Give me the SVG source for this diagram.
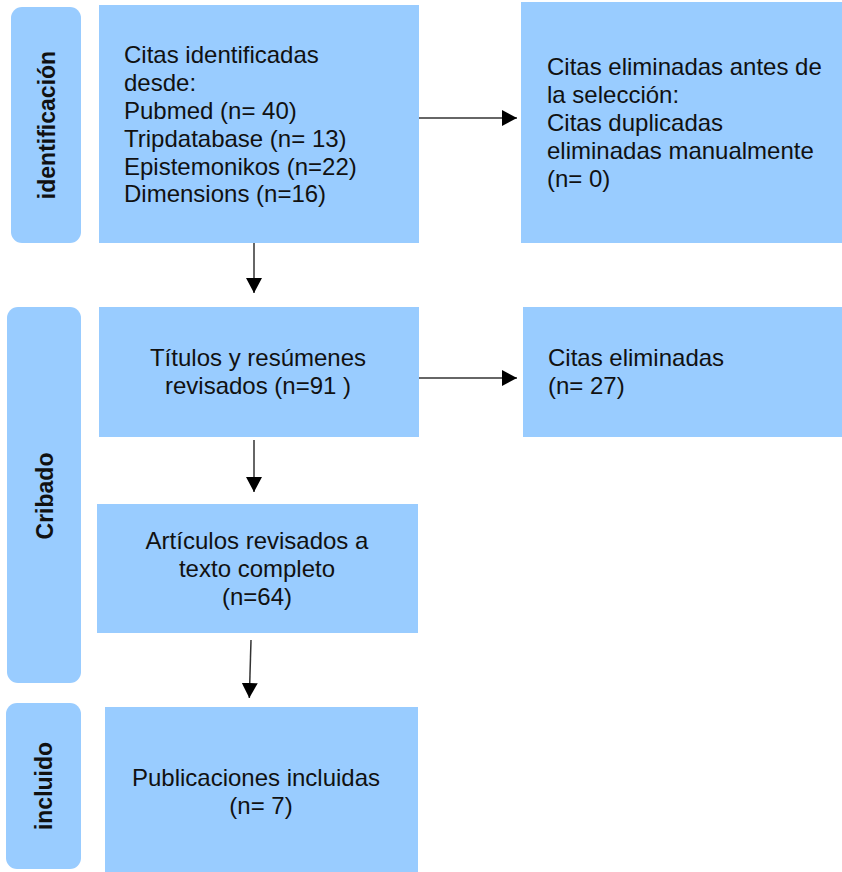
<svg xmlns="http://www.w3.org/2000/svg" width="842" height="872" viewBox="0 0 842 872">
<style>
.box{fill:#99CCFF}
.pill{fill:#99CCFF}
.t{font-family:"Liberation Sans",Arial,Helvetica,sans-serif;font-size:24px;fill:#111}
.c{text-anchor:middle}
.lab{font-family:"Liberation Sans",Arial,Helvetica,sans-serif;font-size:23px;font-weight:bold;fill:#111;text-anchor:middle}
.ln{stroke:#333;stroke-width:1.5;fill:none}
</style>
<defs>
<marker id="ah" viewBox="0 0 15 16" refX="15" refY="8" markerWidth="15" markerHeight="16" markerUnits="userSpaceOnUse" orient="auto">
<path d="M0,0 L15,8 L0,16 Z" fill="#000"/>
</marker>
</defs>
<rect width="842" height="872" fill="#fff"/>
<g id="stage-identificacion">
<rect class="pill" x="11" y="7" width="70" height="236" rx="11"/>
<text class="lab" transform="translate(55,125) rotate(-90)">identificación</text>
</g>
<g id="stage-cribado">
<rect class="pill" x="7" y="307" width="74" height="376" rx="11"/>
<text class="lab" transform="translate(53,496) rotate(-90)">Cribado</text>
</g>
<g id="stage-incluido">
<rect class="pill" x="6" y="703" width="75" height="166" rx="11"/>
<text class="lab" transform="translate(52,786) rotate(-90)">incluido</text>
</g>
<g id="n-identificadas">
<rect class="box" x="99" y="5" width="320" height="238"/>
<text class="t" x="124" y="63">Citas identificadas</text>
<text class="t" x="124" y="91">desde:</text>
<text class="t" x="124" y="119">Pubmed (n= 40)</text>
<text class="t" x="124" y="147">Tripdatabase (n= 13)</text>
<text class="t" x="124" y="174.5">Epistemonikos (n=22)</text>
<text class="t" x="124" y="202">Dimensions (n=16)</text>
</g>
<g id="n-eliminadas-antes">
<rect class="box" x="521" y="2" width="321" height="241"/>
<text class="t" x="547" y="75">Citas eliminadas antes de</text>
<text class="t" x="547" y="103">la selección:</text>
<text class="t" x="547" y="131">Citas duplicadas</text>
<text class="t" x="547" y="158.5">eliminadas manualmente</text>
<text class="t" x="547" y="186.5">(n= 0)</text>
</g>
<g id="n-titulos">
<rect class="box" x="99" y="307" width="320" height="130"/>
<text class="t c" x="258" y="366">Títulos y resúmenes</text>
<text class="t c" x="258" y="394">revisados (n=91 )</text>
</g>
<g id="n-citas-eliminadas">
<rect class="box" x="523" y="307" width="319" height="130"/>
<text class="t" x="548" y="366">Citas eliminadas</text>
<text class="t" x="548" y="394">(n= 27)</text>
</g>
<g id="n-articulos">
<rect class="box" x="97" y="504" width="321" height="129"/>
<text class="t c" x="257" y="549">Artículos revisados a</text>
<text class="t c" x="257" y="577">texto completo</text>
<text class="t c" x="257" y="605">(n=64)</text>
</g>
<g id="n-incluidas">
<rect class="box" x="105" y="707" width="313" height="165"/>
<text class="t c" x="256" y="786">Publicaciones incluidas</text>
<text class="t c" x="261" y="814">(n= 7)</text>
</g>
<g id="connectors">
<line class="ln" x1="419" y1="118" x2="517" y2="118" marker-end="url(#ah)"/>
<line class="ln" x1="419" y1="378" x2="517" y2="378" marker-end="url(#ah)"/>
<line class="ln" x1="254" y1="243" x2="254" y2="293" marker-end="url(#ah)"/>
<line class="ln" x1="254" y1="440" x2="254" y2="492" marker-end="url(#ah)"/>
<line class="ln" x1="251" y1="640" x2="249.3" y2="698" marker-end="url(#ah)"/>
</g>
</svg>
